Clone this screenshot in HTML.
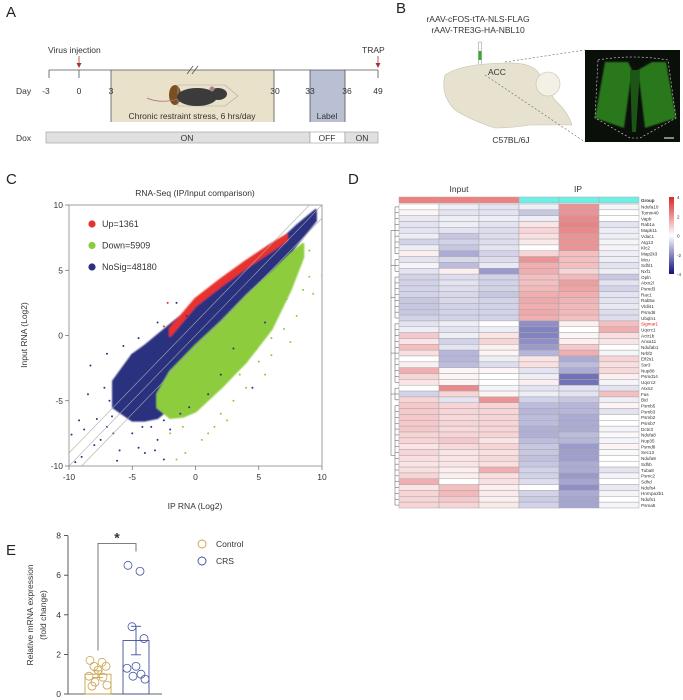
<!DOCTYPE html>
<html><head><meta charset="utf-8"><style>
html,body{margin:0;padding:0;background:#fff}
svg{display:block;font-family:"Liberation Sans",Arial,sans-serif}
</style></head><body>
<svg id="fig" width="683" height="700" viewBox="0 0 683 700" xmlns="http://www.w3.org/2000/svg">
<defs><filter id="soft" x="-5%" y="-5%" width="110%" height="110%"><feGaussianBlur stdDeviation="0.9"/></filter></defs>
<!-- Panel letters -->
<g font-size="15" fill="#222">
<text x="6" y="17">A</text>
<text x="396" y="13">B</text>
<text x="6" y="184">C</text>
<text x="348" y="184">D</text>
<text x="6" y="555">E</text>
</g>

<!-- Panel A timeline -->
<g font-size="8.5" fill="#333">
<rect x="111" y="70" width="163" height="52" fill="#e9e1c9"/>
<rect x="310" y="70" width="35" height="52" fill="#b9c0d4"/>
<line x1="49" y1="70" x2="378" y2="70" stroke="#555" stroke-width="0.8"/>
<g stroke="#555" stroke-width="0.8">
<line x1="49" y1="70" x2="49" y2="78"/><line x1="79" y1="70" x2="79" y2="78"/>
<line x1="111" y1="70" x2="111" y2="122"/><line x1="274" y1="70" x2="274" y2="122"/>
<line x1="310" y1="70" x2="310" y2="122"/><line x1="345" y1="70" x2="345" y2="122"/>
<line x1="378" y1="70" x2="378" y2="78"/>
<line x1="187" y1="74" x2="193" y2="66"/><line x1="192" y1="74" x2="198" y2="66"/>
</g>
<text x="48" y="53">Virus injection</text>
<line x1="79" y1="56" x2="79" y2="66" stroke="#a33" stroke-width="0.8"/><path d="M76.5,63 L79,68 L81.5,63Z" fill="#a33"/>
<text x="362" y="53">TRAP</text>
<line x1="378" y1="56" x2="378" y2="66" stroke="#a33" stroke-width="0.8"/><path d="M375.5,63 L378,68 L380.5,63Z" fill="#a33"/>
<text x="16" y="94">Day</text>
<g text-anchor="middle">
<text x="46" y="94">-3</text><text x="79" y="94">0</text><text x="111" y="94">3</text>
<text x="275" y="94">30</text><text x="310" y="94">33</text><text x="347" y="94">36</text><text x="378" y="94">49</text>
</g>
<g>
<ellipse cx="175" cy="95" rx="6" ry="10" fill="#7a5020"/>
<path d="M178,85 L225,85 L238,96 L225,106 L178,106Z" fill="none" stroke="#aaa" stroke-width="0.6"/>
<ellipse cx="197" cy="97" rx="20" ry="9" fill="#3b3b3b"/>
<ellipse cx="218" cy="94" rx="9" ry="6" fill="#3b3b3b"/>
<circle cx="212" cy="89" r="2.5" fill="#b08080"/>
<path d="M178,99 Q160,104 147,98" stroke="#b07070" fill="none" stroke-width="0.8"/>
</g>
<text x="192" y="119" text-anchor="middle">Chronic restraint stress, 6 hrs/day</text>
<text x="327" y="119" text-anchor="middle">Label</text>
<rect x="46" y="132" width="264" height="11" fill="#e0e0e0" stroke="#999" stroke-width="0.6"/>
<rect x="310" y="132" width="35" height="11" fill="#fff" stroke="#999" stroke-width="0.6"/>
<rect x="345" y="132" width="33" height="11" fill="#e0e0e0" stroke="#999" stroke-width="0.6"/>
<text x="16" y="141">Dox</text>
<text x="187" y="141" text-anchor="middle">ON</text><text x="327" y="141" text-anchor="middle">OFF</text><text x="362" y="141" text-anchor="middle">ON</text>
</g>

<!-- Panel B -->
<g font-size="8.5" fill="#333">
<text x="478" y="22" text-anchor="middle">rAAV-cFOS-tTA-NLS-FLAG</text>
<text x="478" y="33" text-anchor="middle">rAAV-TRE3G-HA-NBL10</text>
<rect x="478.5" y="42" width="3" height="25" fill="#fff" stroke="#888" stroke-width="0.5"/>
<rect x="478.5" y="51" width="3" height="9" fill="#3a3"/>
<path d="M445,75 Q460,64 505,63 Q530,62 538,72 Q545,85 555,100 Q568,112 572,125 L530,125 Q510,128 495,128 Q470,120 455,110 Q440,95 445,75Z" fill="#e7e2d0" stroke="#c8c2ad" stroke-width="0.6"/>
<circle cx="548" cy="84" r="12" fill="#f3f0e6" stroke="#c8c2ad" stroke-width="0.6"/>
<text x="488" y="75">ACC</text>
<text x="511" y="143" text-anchor="middle">C57BL/6J</text>
<line x1="505" y1="62" x2="585" y2="50" stroke="#666" stroke-width="0.6" stroke-dasharray="2,2"/>
<line x1="485" y1="75" x2="585" y2="142" stroke="#666" stroke-width="0.6" stroke-dasharray="2,2"/>
<rect x="585" y="50" width="95" height="92" fill="#0a0f0a"/>
<g filter="url(#soft)">
<path d="M605,62 L628,62 L632,70 L624,128 L595,118 Z" fill="#2f8a22" opacity="0.85"/>
<path d="M652,62 L666,62 L676,118 L645,128 L638,70Z" fill="#2f8a22" opacity="0.85"/>
</g>
<path d="M630,70 L640,70 L636,132 L632,132Z" fill="#1d5516"/>
<path d="M598,60 Q632,54 668,60 L676,118 L640,138 L630,138 L595,118Z" fill="none" stroke="#ddd" stroke-width="0.6" stroke-dasharray="2,2"/>
<line x1="664" y1="138" x2="674" y2="138" stroke="#fff" stroke-width="1"/>
</g>

<!-- Panel C scatter -->
<g id="scatter" font-size="8.5" fill="#333">
<text x="195" y="196" text-anchor="middle">RNA-Seq (IP/Input comparison)</text>
<text x="195" y="509" text-anchor="middle">IP RNA (Log2)</text>
<text transform="translate(27,335) rotate(-90)" text-anchor="middle">Input RNA (Log2)</text>
</g>

<!-- Panel D heatmap -->
<g id="heatmap" font-size="8.5" fill="#333">
<text x="459" y="192" text-anchor="middle">Input</text>
<text x="578" y="192" text-anchor="middle">IP</text>
<text x="641" y="202" font-size="4.5" font-weight="bold">Group</text>
</g>

<!-- Panel E -->
<g id="barchart" font-size="8.5" fill="#333">
<text transform="translate(33,615) rotate(-90)" text-anchor="middle">Relative mRNA expression</text>
<text transform="translate(46,615) rotate(-90)" text-anchor="middle">(fold change)</text>
<circle cx="202" cy="544" r="4" fill="none" stroke="#c9a24a" stroke-width="0.9"/>
<text x="216" y="547">Control</text>
<circle cx="202" cy="561" r="4" fill="none" stroke="#4050a0" stroke-width="0.9"/>
<text x="216" y="564">CRS</text>
</g>
</svg>
<script>
// ---------- Panel C data ----------
var blueX  = [-6.5,-5,-4,-3,-2,-1,0,2,4,6,8,9.5];
var blueHi = [-3.5,-1.5,-0.8,0,0.8,1.6,2.4,3.8,5.2,6.6,8.4,9.6];
var blueLo = [-5.5,-6.5,-6.5,-6.3,-5.5,-4,-2.5,-0.5,2,4.5,7,8.8];
var redX  = [-2,0,2,4,6,7.2];
var redHi = [0.5,2.8,4.3,5.7,7.0,7.7];
var redLo = [0.0,2.3,3.8,5.2,6.5,7.3];
var greenX  = [-3,-2,-1,0,2,4,6,7.5,8.5];
var greenHi = [-4.5,-2.8,-1.8,-0.8,1,3,4.8,6.2,7];
var greenLo = [-5.5,-6.3,-6.2,-5.8,-4,-2,0.5,3.5,6];
var blueOut = [[-9.8,-7.6],[-9.2,-6.5],[-9,-9.3],[-8.3,-2.3],[-7.8,-6.4],[-7.5,-8],[-7,-1.4],[-6.8,-5],[-6.5,-7.5],[-6,-3.5],[-6,-8.8],[-5.8,-2.8],[-5.5,-6],[-5,-1.5],[-5,-7.5],[-4.8,-4.2],[-4.5,-8.6],[-4,-9],[-3.8,-1],[-3.5,-7],[-3,-8],[-2.5,-9.5],[-2.5,-6.5],[-2,-7.2],[-1.2,-6],[-0.5,-5.5],[1,-4.5],[2,-3],[4.5,-4],[3,-1],[5.5,1],[-1.5,2.5],[-0.7,1.5],[-8.5,-4.5],[-7,-7],[-9.5,-9.7],[-6.2,-9.6],[-7.2,-4],[-6.6,-6.2],[-5.3,-4.8],[-4.2,-7],[-3.2,-8.8],[-8,-8.4],[-8.8,-7.2],[-5.7,-0.8],[-4.5,-0.2],[-3,1]];
var greenOut = [[-0.8,-9],[-1.5,-9.5],[0.5,-8],[1,-7.5],[2,-6],[3,-5],[4,-4],[5.5,-3],[6,-1.5],[7,0.5],[8.5,3.5],[9,4.5],[9.3,3.2],[10,4.6],[8.3,5.5],[9,6.5],[7.5,-0.5],[5,-2],[6.5,2],[2.5,-6.5],[-1,-7],[3.5,-3],[4.8,-1],[6,-0.2],[7.2,2.8],[8,1.5],[1.5,-7],[-2,-7.5]];
var redOut = [[-2.2,2.5],[-2.5,0.7],[-1.8,1.0],[-1.2,1.3],[-0.4,2.1]];
var scatterTicks = [-10,-5,0,5,10];
var legendLabels = ["Up=1361","Down=5909","NoSig=48180"];

// ---------- Panel D data ----------
var genes = ["Ndufa10","Tomm40","Vapb","Rab1a","Mapk11","Vdac1","Atg13","Klc2","Map2k3","Mcu","Sdhl1","Nxf1","Opln","Atxn2l","Psmd3","Rac1","Rab5a","Vldl41","Psmd6","Ubqln1","Sigmar1","Uqcrc1","Actr1b","Anxa11","Ndufab1","Nrbf2","Eif2s1","Ssr3","Nup88","Psmd14","Uqcrc2","Atxn2","Fas","Bid","Psmb5","Psmb3","Psmb2","Psmb7","Dctn3","Ndufa8","Nup35","Psmd8","Sec13","Ndufa9","Sdhb","Tuba8","Psmc2","Sdhd","Ndufs4","Hnrnpa2b1","Ndufs1","Psma5"];
var expr = [
[0,-0.3,-0.5,-0.3,2,-0.2],[0.2,-0.5,-0.5,-1,2,0],[-0.4,-0.3,-0.3,-0.3,2.2,0],[-0.5,-0.3,-0.5,0.5,2.3,-0.5],
[-0.5,-0.5,-0.6,0.8,2.2,-0.3],[-0.3,-1,-0.6,0.6,2,-0.3],[-0.8,-0.8,-0.6,0.4,2,-0.2],[-0.3,-1,-0.5,0,2,-0.2],
[0.3,-1.5,-0.8,0.8,1.2,-0.3],[-0.5,-0.7,-0.6,2,1.2,-0.3],[-0.2,-1.2,-0.4,1.5,1.2,-0.5],[-0.5,0.3,-1.8,1.5,0.8,-0.3],
[-0.8,-0.6,-0.8,1.2,1.3,-1],[-0.8,-0.5,-0.8,1.2,1.8,-0.5],[-0.8,-0.6,-0.8,1.3,1.7,-0.8],[-0.8,-0.7,-1,1.5,1.5,-0.5],
[-1,-0.7,-0.8,1.6,1.4,-0.5],[-1,-0.8,-0.8,1.5,1.3,-0.4],[-1,-0.8,-0.8,1.6,1.3,-0.6],[-0.8,-0.8,-0.8,1.5,1.2,-0.6],
[-0.5,-0.3,0,-2,0.3,1.2],[-0.3,-0.5,-0.3,-2.2,0,1.5],[1,-0.3,0.5,-2.2,0.2,0.6],[0.5,-0.8,0.8,-2,0.3,0.5],
[1.2,-0.5,0.3,-1.8,1,0],[0.6,-1.3,0.2,-1.3,1.5,-0.2],[0,-1.3,-0.3,0.5,-1.5,0.8],[0.3,-1.2,-0.6,0.6,-1.2,0.6],
[1.5,0.2,0.2,-0.5,-1.5,0.7],[0.8,0.2,0,-0.3,-2.5,0.3],[0.5,0.2,0,0.3,-2.5,-0.2],[0,2.2,-0.2,-0.5,-0.5,-0.5],
[-0.8,0.8,0.2,-0.3,-0.5,1.2],[0.8,-0.5,2,-0.8,-1,-0.3],[1,0.8,0.8,-1.2,-1.3,0.2],[1,0.8,0.8,-1.3,-1.3,-0.5],
[1,0.7,0.8,-1.2,-1.5,0],[1,0.8,0.8,-1.2,-1.5,0],[1,0.7,0.8,-1.4,-1.5,-0.2],[0.8,0.8,0.8,-1.4,-1.2,-0.1],
[0.8,1,0.5,-1.2,-1.3,-0.2],[0.5,0.7,0.8,-1,-1.8,0.2],[0.8,0.5,0.6,-1,-1.7,-0.1],[0.6,0.5,0.7,-1.1,-1.7,0],
[0.5,0.5,0.6,-1,-1.5,0],[0.6,0.3,1.5,-0.8,-1.5,-0.5],[0.8,0.3,0.6,-0.8,-1.8,-0.2],[1.5,0,0.6,-0.6,-1.6,0],
[0.5,1.2,0.3,0,-2,-0.4],[0.8,1.3,0.4,-0.8,-1.5,-0.2],[0.8,1,0.3,-0.9,-1.6,0],[0.8,0.8,0.4,-0.8,-1.6,-0.2]];
var groups = ["Input","Input","Input","IP","IP","IP"];
var colorbarTicks = [4,2,0,-2,-4];

// ---------- Panel E data ----------
var eGroups = ["Control","CRS"];
var eMeans = [1.0,2.7];
var eSEM = [0.17,0.72];
var controlPts = [1.7,1.6,1.4,1.4,1.2,0.9,0.85,0.6,0.45,0.4];
var crsPts = [6.5,6.2,3.4,2.8,1.4,1.3,1.0,0.9,0.75];
var eTicks = [0,2,4,6,8];

var NS='http://www.w3.org/2000/svg';
function mk(tag,attrs,parent){var e=document.createElementNS(NS,tag);for(var k in attrs)e.setAttribute(k,attrs[k]);parent.appendChild(e);return e;}

// ---- scatter ----
(function(){
var g=document.getElementById('scatter');
var x0=69,x1=322,y0=466,y1=205;
function sx(v){return x0+(v+10)/20*(x1-x0);}
function sy(v){return y0-(v+10)/20*(y0-y1);}
var box=mk('rect',{x:x0,y:y1,width:x1-x0,height:y0-y1,fill:'none',stroke:'#888','stroke-width':0.8},g);


scatterTicks.forEach(function(t){
 mk('line',{x1:sx(t),y1:y0,x2:sx(t),y2:y0+4,stroke:'#666','stroke-width':0.7},g);
 var tx=mk('text',{x:sx(t),y:y0+14,'text-anchor':'middle'},g);tx.textContent=t;
 
 
 mk('line',{x1:x0-4,y1:sy(t),x2:x0,y2:sy(t),stroke:'#666','stroke-width':0.7},g);
 var ty=mk('text',{x:x0-6,y:sy(t)+3,'text-anchor':'end'},g);ty.textContent=t;
 
 
});
var clip=mk('clipPath',{id:'scClip'},g);mk('rect',{x:x0,y:y1,width:x1-x0,height:y0-y1},clip);
var pg=mk('g',{'clip-path':'url(#scClip)'},g);
var bg=mk('g',{filter:'url(#soft)'},pg);
function band(xs,hi,lo,col,name){
 var pts=[];xs.forEach(function(x,i){pts.push(sx(x)+','+sy(hi[i]));});
 for(var i=xs.length-1;i>=0;i--)pts.push(sx(xs[i])+','+sy(lo[i]));
 var p=mk('polygon',{points:pts.join(' '),fill:col,stroke:col,'stroke-width':2.5,'stroke-linejoin':'round'},bg);
 
 
}
function pts(arr,col,name){arr.forEach(function(d){var c=mk('circle',{cx:sx(d[0]),cy:sy(d[1]),r:1,fill:col},pg);
 
 });}
band(blueX,blueHi,blueLo,'#2b3180','nosig-band');
band(redX,redHi,redLo,'#e8312f','up-band');
band(greenX,greenHi,greenLo,'#8ccc3c','down-band');
pts(blueOut,'#2b3180','nosig-point');pts(greenOut,'#8ccc3c','down-point');pts(redOut,'#e8312f','up-point');
[-1,0,1].forEach(function(o){mk('line',{x1:sx(-10),y1:sy(-10+o),x2:sx(10),y2:sy(10+o),stroke:'#aaa','stroke-width':0.6},pg);});
var cols=['#e8312f','#8ccc3c','#2b3180'];
legendLabels.forEach(function(l,i){
 var c=mk('circle',{cx:92,cy:224+i*21.5,r:3.6,fill:cols[i]},g);
 
 
 var t=mk('text',{x:102,y:227+i*21.5,'font-size':9},g);t.textContent=l;
 
 
});
})();

// ---- heatmap ----
(function(){
var g=document.getElementById('heatmap');
var gx=399,gw=240,top=204,bot=508;
var cw=gw/6,rh=(bot-top)/genes.length;
function col(v){var t=Math.max(-1,Math.min(1,v/4));var r,gg,b;
 if(t>=0){r=255+(214-255)*t;gg=255+(40-255)*t;b=255+(45-255)*t;}else{t=-t;r=255+(30-255)*t;gg=255+(30-255)*t;b=255+(140-255)*t;}
 return 'rgb('+Math.round(r)+','+Math.round(gg)+','+Math.round(b)+')';}
groups.forEach(function(gr,j){var r=mk('rect',{x:gx+j*cw,y:197,width:cw,height:6,fill:gr==='Input'?'#f08080':'#6cf0e6',stroke:'#aaa','stroke-width':0.5},g);
 
 });
expr.forEach(function(row,i){
 row.forEach(function(v,j){var r=mk('rect',{x:gx+j*cw,y:top+i*rh,width:cw,height:rh,fill:col(v),stroke:'#a8a8a8','stroke-width':0.5},g);
  
  });
 var t=mk('text',{x:641,y:top+i*rh+rh*0.8,'font-size':4.6,fill:genes[i]==='Sigmar1'?'#e02020':'#333'},g);t.textContent=genes[i];
 
 
 mk('line',{x1:395,y1:top+(i+0.5)*rh,x2:399,y2:top+(i+0.5)*rh,stroke:'#555','stroke-width':0.5},g);
});
var clusters=[[0,8],[9,11],[12,19],[20,30],[31,33],[34,51]];
clusters.forEach(function(c){var ya=top+(c[0]+0.5)*rh,yb=top+(c[1]+0.5)*rh;
 mk('line',{x1:395,y1:ya,x2:395,y2:yb,stroke:'#555','stroke-width':0.5},g);
 mk('line',{x1:391,y1:(ya+yb)/2,x2:395,y2:(ya+yb)/2,stroke:'#555','stroke-width':0.5},g);});
mk('line',{x1:391,y1:top+4.5*rh,x2:391,y2:top+43*rh,stroke:'#555','stroke-width':0.5},g);
var grad=mk('linearGradient',{id:'cbg',x1:0,y1:0,x2:0,y2:1},g);
[[0,'#d62828'],[0.5,'#ffffff'],[1,'#101080']].forEach(function(s){mk('stop',{offset:s[0],'stop-color':s[1]},grad);});
var cb=mk('rect',{x:669,y:197,width:5,height:77,fill:'url(#cbg)'},g);


colorbarTicks.forEach(function(v){var y=197+(4-v)/8*77;var t=mk('text',{x:677,y:y+2,'font-size':4.6},g);t.textContent=v;
 
 });
})();

// ---- bar chart ----
(function(){
var g=document.getElementById('barchart');
var yb=694,k=19.8;function sy(v){return yb-v*k;}
mk('line',{x1:68,y1:sy(8),x2:68,y2:yb,stroke:'#333','stroke-width':0.8},g);
mk('line',{x1:68,y1:yb,x2:162,y2:yb,stroke:'#333','stroke-width':0.8},g);
eTicks.forEach(function(t){mk('line',{x1:64,y1:sy(t),x2:68,y2:sy(t),stroke:'#333','stroke-width':0.8},g);
 var tx=mk('text',{x:61,y:sy(t)+3,'text-anchor':'end'},g);tx.textContent=t;
 
 });
var bx=[85,123],bw=26,cols=['#c9a24a','#4050a0'];var ptsAll=[controlPts,crsPts];
var offs=[-8,4,-4,8,0,-9,5,-3,9,-6];
eGroups.forEach(function(gr,i){
 var r=mk('rect',{x:bx[i],y:sy(eMeans[i]),width:bw,height:eMeans[i]*k,fill:'none',stroke:cols[i],'stroke-width':0.9},g);
 
 
 var cx=bx[i]+bw/2;
 mk('line',{x1:cx,y1:sy(eMeans[i]-eSEM[i]),x2:cx,y2:sy(eMeans[i]+eSEM[i]),stroke:cols[i],'stroke-width':0.9},g);
 [eMeans[i]-eSEM[i],eMeans[i]+eSEM[i]].forEach(function(v){mk('line',{x1:cx-5,y1:sy(v),x2:cx+5,y2:sy(v),stroke:cols[i],'stroke-width':0.9},g);});
 ptsAll[i].forEach(function(v,j){var c=mk('circle',{cx:cx+offs[j%offs.length],cy:sy(v),r:4,fill:'none',stroke:cols[i],'stroke-width':0.8},g);
  
  });
});
var sig=mk('path',{d:'M98,'+sy(2.2)+' L98,'+sy(7.6)+' L136,'+sy(7.6)+' L136,'+sy(7.2),fill:'none',stroke:'#555','stroke-width':0.8},g);


var st=mk('text',{x:117,y:sy(7.6)-1,'text-anchor':'middle','font-size':14,'font-weight':'bold'},g);st.textContent='*';


})();
</script>
</body></html>
